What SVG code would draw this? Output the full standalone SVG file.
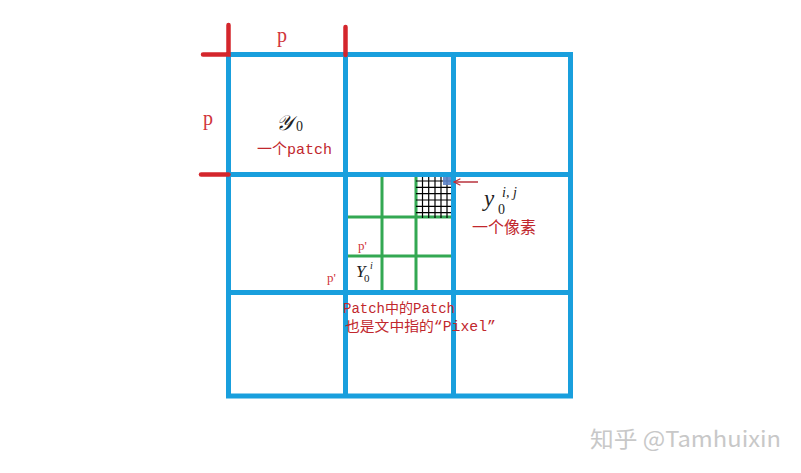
<svg xmlns="http://www.w3.org/2000/svg" width="801" height="473" viewBox="0 0 801 473">
<defs>
<style>
.blue{stroke:#199fdd;stroke-width:5;fill:none}
.green{stroke:#33a852;stroke-width:3;fill:none}
.black{stroke:#000;stroke-width:1.2;fill:none}
.red{stroke:#d4262c;stroke-width:4.5;fill:none;stroke-linecap:round}
.lbl{fill:#d0343a;font-family:"Liberation Serif",serif}
.cn{fill:#c1272d;font-family:"Liberation Mono","Noto Sans CJK SC",monospace}
.math{fill:#222;font-family:"Liberation Serif","DejaVu Serif",serif;font-style:italic}
.num{fill:#222;font-family:"Liberation Serif",serif}
</style>
<marker id="ah" viewBox="0 0 10 10" refX="9" refY="5" markerWidth="8" markerHeight="8" orient="auto" markerUnits="userSpaceOnUse">
<path d="M1,1 L9,5 L1,9" fill="none" stroke="#b8323c" stroke-width="1.4"/>
</marker>
</defs>
<rect width="801" height="473" fill="#fff"/>
<g id="subpatch-grid">
<path class="green" d="M382,174 V293 M416,174 V293 M345,217 H454 M345,256 H454"/>
</g>
<g id="pixel-grid">
<path class="black" d="M422.5,176 V218 M428.7,176 V218 M435,176 V218 M441,176 V218 M447,176 V218"/>
<path class="black" d="M416,181 H453 M416,187.3 H453 M416,193.6 H453 M416,200 H453 M416,206.3 H453 M416,212.6 H453"/>
<rect id="pixel" x="443" y="176.5" width="10" height="8.5" fill="#5b82c8" opacity="0.9"/>
</g>
<g id="patch-grid">
<rect class="blue" x="228.5" y="54.5" width="342" height="341.5"/>
<path class="blue" d="M345.5,54.5 V396 M453.5,54.5 V396 M228.5,174.5 H570.5 M228.5,292.5 H570.5"/>
</g>
<g id="size-marks">
<path class="red" d="M203,54.5 H228.5 V25"/>
<path class="red" d="M345.5,27 V55"/>
<path class="red" d="M201,174.5 H228.5"/>
<text class="lbl" x="277" y="42" font-size="20">p</text>
<text class="lbl" x="203" y="125" font-size="20">p</text>
</g>
<g id="patch-label">
<text class="math" x="276" y="130" font-size="21" font-style="normal">𝒴</text>
<text class="num" x="296" y="131" font-size="14">0</text>
<text class="cn" x="257" y="154" font-size="15">一个patch</text>
</g>
<g id="connectors">
<line x1="478" y1="182" x2="454" y2="182" stroke="#b8323c" stroke-width="1.5" marker-end="url(#ah)"/>
</g>
<g id="pixel-label">
<text class="math" x="484" y="206" font-size="23">y</text>
<text class="num" x="498" y="214" font-size="14">0</text>
<text class="math" x="502" y="197" font-size="14">i, j</text>
<text class="cn" x="472" y="233" font-size="16">一个像素</text>
</g>
<g id="subpatch-label">
<text class="lbl" x="358" y="250" font-size="13">p'</text>
<text class="lbl" x="327" y="282" font-size="13">p'</text>
<text class="math" x="356" y="277" font-size="17">Y</text>
<text class="num" x="364" y="282" font-size="11">0</text>
<text class="math" x="370" y="269" font-size="10">i</text>
</g>
<g id="note">
<text class="cn" x="343" y="313" font-size="14" textLength="112" lengthAdjust="spacingAndGlyphs">Patch中的Patch</text>
<text class="cn" x="345" y="331" font-size="14" textLength="151" lengthAdjust="spacingAndGlyphs">也是文中指的“Pixel”</text>
</g>
<g id="watermark">
<text x="590" y="447" font-size="22" fill="#c8c8c8" font-family="'Noto Sans CJK SC','Noto Sans',sans-serif" textLength="191" lengthAdjust="spacingAndGlyphs">知乎 @Tamhuixin</text>
</g>
</svg>
